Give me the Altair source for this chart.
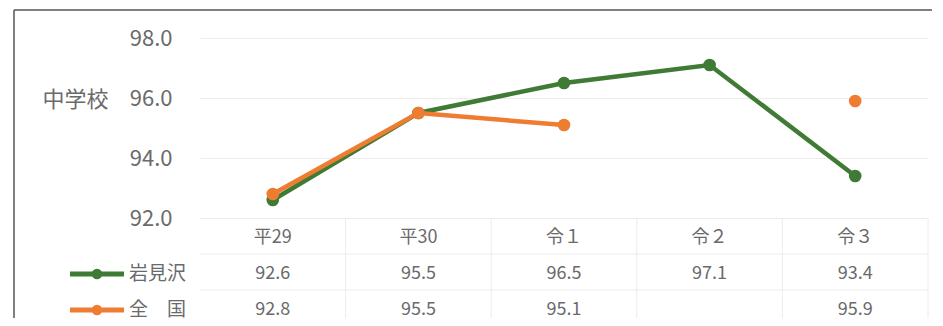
import altair as alt
import pandas as pd

categories = ["平29", "平30", "令１", "令２", "令３"]
iwamizawa = [92.6, 95.5, 96.5, 97.1, 93.4]
zenkoku = [92.8, 95.5, 95.1, None, 95.9]
series_names = ["岩見沢", "全国"]
series_labels = ["岩見沢", "全　国"]
series_colors = ["#3f7b35", "#ee7d31"]
y_ticks = [92.0, 94.0, 96.0, 98.0]
y_title = "中学校"

FONT = "Noto Sans CJK JP"
GRAY = "#6a6a6a"

rows = []
for name, vals in zip(series_names, [iwamizawa, zenkoku]):
    for c, v in zip(categories, vals):
        rows.append({"category": c, "series": name, "value": v})
long_df = pd.DataFrame(rows)

table_rows = [{"category": c, "row": "header", "text": c} for c in categories]
for name, vals in zip(series_names, [iwamizawa, zenkoku]):
    for c, v in zip(categories, vals):
        if v is not None:
            table_rows.append({"category": c, "row": name, "text": f"{v:.1f}"})
table_df = pd.DataFrame(table_rows)

legend_df = pd.DataFrame({"row": series_names, "series": series_names, "label": series_labels})

W = 728
H_TOP = 180
H_TAB = 100

xscale = alt.Scale(type="band", domain=categories, paddingInner=0, paddingOuter=0)
color = alt.Color("series:N", scale=alt.Scale(domain=series_names, range=series_colors), legend=None)

x_enc = alt.X("category:N", scale=xscale, axis=None, sort=categories)
y_enc = alt.Y(
    "value:Q",
    scale=alt.Scale(domain=[92, 98], nice=False, zero=False),
    axis=alt.Axis(
        values=y_ticks, format=".1f", title=y_title, titleAngle=0,
        titleX=-125, titleY=61, titleAlign="center", titleBaseline="middle",
        titleFontSize=22, titleFontWeight="normal", titleColor=GRAY, titleFont=FONT,
        labelFontSize=22, labelColor=GRAY, labelFont=FONT, labelPadding=28,
        ticks=False, domain=False, grid=True, gridColor="#ececec", gridWidth=1,
    ),
)

base = alt.Chart(long_df)
layers = []
for name in series_names:
    sub = base.transform_filter(alt.datum.series == name)
    layers.append(sub.mark_line(strokeWidth=4.5, invalid="break-paths-show-domains").encode(x=x_enc, y=y_enc, color=color))
    layers.append(sub.mark_circle(size=160, opacity=1).encode(x=x_enc, y=y_enc, color=color))

frame_left = alt.Chart(pd.DataFrame({"a": [0]})).mark_rule(color="#555555", strokeWidth=1.5).encode(
    x=alt.value(-186), y=alt.value(-28), y2=alt.value(280))
frame_top = alt.Chart(pd.DataFrame({"a": [0]})).mark_rule(color="#555555", strokeWidth=1.5).encode(
    x=alt.value(-186), x2=alt.value(732), y=alt.value(-28))

top = alt.layer(*layers, frame_left, frame_top).properties(width=W, height=H_TOP)

yrow = alt.Y("row:N", scale=alt.Scale(type="point", domain=["header"] + series_names, range=[20, 92], padding=0), axis=None)

table_text = alt.Chart(table_df).mark_text(font=FONT, fontSize=18, color=GRAY, baseline="middle").encode(
    x=x_enc, y=yrow, text="text:N")

grid_v = alt.Chart(pd.DataFrame({"category": categories})).mark_rule(color="#ececec", strokeWidth=1).encode(
    x=alt.X("category:N", scale=xscale, axis=None, sort=categories, bandPosition=1),
    y=alt.value(0), y2=alt.value(H_TAB))
grid_h = alt.Chart(pd.DataFrame({"yy": [36, 72]})).mark_rule(color="#ececec", strokeWidth=1).encode(
    x=alt.value(0), x2=alt.value(W), y=alt.Y("yy:Q", scale=alt.Scale(domain=[0, H_TAB], range=[0, H_TAB]), axis=None))

key_line = alt.Chart(legend_df).mark_rule(strokeWidth=5).encode(
    x=alt.value(-130), x2=alt.value(-76), y=yrow, color=color)
key_dot = alt.Chart(legend_df).mark_circle(size=110, opacity=1).encode(
    x=alt.value(-103), y=yrow, color=color)
key_text = alt.Chart(legend_df).mark_text(font=FONT, fontSize=19, color=GRAY, align="left", baseline="middle").encode(
    x=alt.value(-71), y=yrow, text="label:N")

bottom = alt.layer(grid_v, grid_h, table_text, key_line, key_dot, key_text).resolve_scale(y="independent").properties(width=W, height=H_TAB)

chart = alt.vconcat(top, bottom, spacing=0, bounds="flush").properties(
    padding={"left": 5, "top": 1, "right": 0, "bottom": 0}
).configure(background="white").configure_view(strokeWidth=0, stroke="transparent")

chart.save("out.html", embed_options={"renderer": "svg", "actions": False})
